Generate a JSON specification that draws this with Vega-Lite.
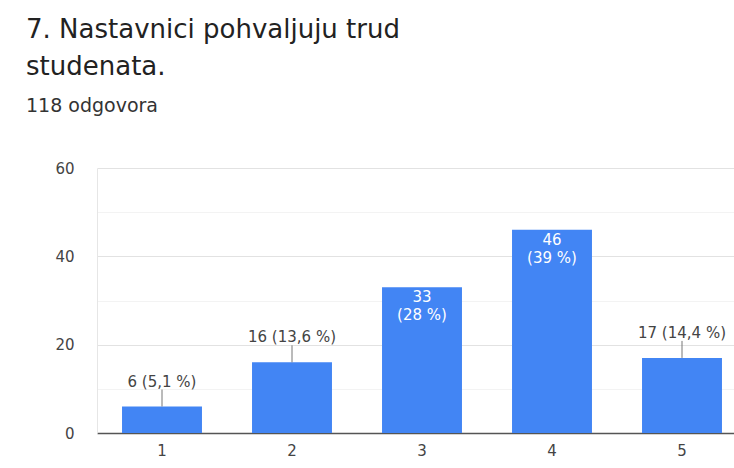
{
  "$schema": "https://vega.github.io/schema/vega-lite/v6.json",
  "width": 650,
  "height": 265,
  "padding": {"left": 26, "top": 17, "right": 0, "bottom": 5},
  "background": "white",
  "config": {
    "font": "DejaVu Sans",
    "view": {"stroke": null}
  },
  "title": {
    "text": ["7. Nastavnici pohvaljuju trud", "studenata."],
    "subtitle": "118 odgovora",
    "anchor": "start",
    "frame": "group",
    "dx": -71,
    "fontSize": 26,
    "fontWeight": "normal",
    "lineHeight": 37,
    "color": "#222222",
    "subtitleFontSize": 19,
    "subtitleColor": "#333333",
    "subtitlePadding": 17,
    "offset": 45
  },
  "data": {
    "values": [
      {"ocjena": "1", "broj": 6, "oznaka": "6 (5,1 %)", "mjesto": "van"},
      {"ocjena": "2", "broj": 16, "oznaka": "16 (13,6 %)", "mjesto": "van"},
      {"ocjena": "3", "broj": 33, "oznaka": "33\n(28 %)", "mjesto": "unutra"},
      {"ocjena": "4", "broj": 46, "oznaka": "46\n(39 %)", "mjesto": "unutra"},
      {"ocjena": "5", "broj": 17, "oznaka": "17 (14,4 %)", "mjesto": "van"}
    ]
  },
  "encoding": {
    "x": {
      "field": "ocjena",
      "type": "ordinal",
      "sort": null,
      "scale": {"paddingInner": 0.385, "paddingOuter": 0.1925},
      "axis": {
        "title": null,
        "labelAngle": 0,
        "ticks": false,
        "domainColor": "#555555",
        "domainWidth": 1.5,
        "labelPadding": 10,
        "labelFontSize": 15,
        "labelColor": "#444444"
      }
    }
  },
  "layer": [
    {
      "mark": {"type": "bar", "color": "#4285F4"},
      "encoding": {
        "y": {
          "field": "broj",
          "type": "quantitative",
          "scale": {"domain": [0, 60], "nice": false},
          "axis": {
            "title": null,
            "values": [0, 10, 20, 30, 40, 50, 60],
            "labelExpr": "datum.value % 20 === 0 ? datum.label : ''",
            "ticks": false,
            "domainColor": "#e6e6e6",
            "labelPadding": 23,
            "labelFontSize": 15,
            "labelColor": "#444444",
            "gridColor": {
              "condition": {"test": "datum.value % 20 === 0", "value": "#e2e2e2"},
              "value": "#f3f3f3"
            }
          }
        }
      }
    },
    {
      "transform": [{"filter": "datum.mjesto === 'van'"}],
      "mark": {"type": "rule", "color": "#777777", "strokeWidth": 1, "y2Offset": -17},
      "encoding": {
        "y": {"field": "broj", "type": "quantitative"},
        "y2": {"field": "broj"}
      }
    },
    {
      "transform": [{"filter": "datum.mjesto === 'van'"}],
      "mark": {"type": "text", "baseline": "middle", "dy": -25, "fontSize": 15, "color": "#444444"},
      "encoding": {
        "y": {"field": "broj", "type": "quantitative"},
        "text": {"field": "oznaka"}
      }
    },
    {
      "transform": [{"filter": "datum.mjesto === 'unutra'"}],
      "mark": {"type": "text", "baseline": "top", "dy": 3, "fontSize": 15, "lineHeight": 18, "lineBreak": "\n", "color": "white"},
      "encoding": {
        "y": {"field": "broj", "type": "quantitative"},
        "text": {"field": "oznaka"}
      }
    }
  ]
}
